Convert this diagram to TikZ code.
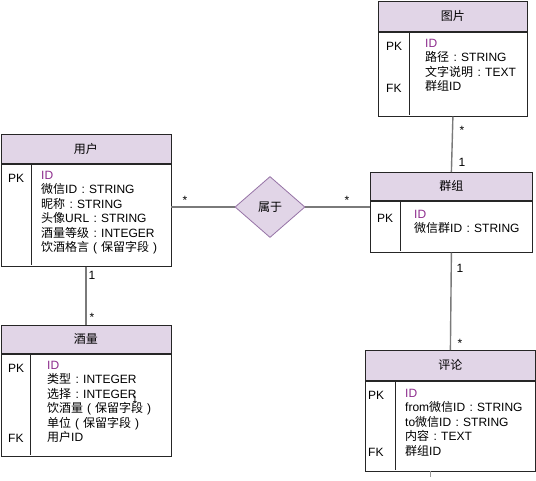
\documentclass[tikz,border=0pt]{standalone}
\usepackage{fontspec}
\setmainfont{Liberation Sans}
\newfontfamily\cjk{Noto Sans CJK SC}
\usetikzlibrary{shapes.geometric}
\definecolor{hdr}{HTML}{E1D5E7}
\definecolor{idc}{HTML}{8E2D8E}
\definecolor{dborder}{HTML}{9673A6}
\definecolor{conncol}{HTML}{7A7A7A}
\newcommand\zh[1]{{\cjk #1}}
\newcommand\cco{\makebox[12pt][c]{:}}
\newcommand\lpa{\makebox[12pt][c]{(}}
\newcommand\rpa{\makebox[12pt][c]{)}}
\begin{document}
\begin{tikzpicture}[x=1pt,y=-1pt,
  hdrbox/.style={draw=black!85, line width=0.8pt, fill=hdr, rectangle, anchor=north west, inner sep=0, font=\fontsize{12}{14.4}\selectfont},
  bodybox/.style={draw=black!85, line width=0.8pt, rectangle, anchor=north west, inner sep=0},
  fld/.style={anchor=base west, inner sep=0, font=\fontsize{12}{14.4}\selectfont},
  conn/.style={draw=conncol, line width=1.4pt},
  mult/.style={anchor=base, inner sep=0, font=\fontsize{12}{14}\selectfont},
  divline/.style={draw=black!85, line width=0.8pt}]
\useasboundingbox[fill=white] (0,0) rectangle (536,480);

% 用户
\node[hdrbox, minimum width=170pt, minimum height=29pt] (userh) at (0.5,134) {\zh{用户}};
\node[bodybox, minimum width=170pt, minimum height=102pt] (user) at (userh.south west) {};
\draw[divline] (31,163) -- (31,265);
\node[fld] (upk) at (8,182.4) {PK};
\foreach \t [count=\i] in {\textcolor{idc}{ID}, \zh{微信}ID\cco STRING, \zh{昵称}\cco STRING, \zh{头像}URL\cco STRING, \zh{酒量等级}\cco INTEGER, \zh{饮酒格言}\lpa\zh{保留字段}\rpa}
  \node[fld] (u\i) at (41,{179.4+(\i-1)*14.4}) {\t};

% 酒量
\node[hdrbox, minimum width=170pt, minimum height=28pt] (wineh) at (0.5,325) {\zh{酒量}};
\node[bodybox, minimum width=170pt, minimum height=102pt] (wine) at (wineh.south west) {};
\draw[divline] (30,353) -- (30,455);
\node[fld] (wpk) at (8,372.4) {PK};
\node[fld] (wfk) at (8,442) {FK};
\foreach \t [count=\i] in {\textcolor{idc}{ID}, \zh{类型}\cco INTEGER, \zh{选择}\cco INTEGER, \zh{饮酒量}\lpa\zh{保留字段}\rpa, \zh{单位}\lpa\zh{保留字段}\rpa, \zh{用户}ID}
  \node[fld] (w\i) at (47,{369.4+(\i-1)*14.4}) {\t};

% 图片
\node[hdrbox, minimum width=149pt, minimum height=30pt] (pich) at (378,1) {\zh{图片}};
\node[bodybox, minimum width=149pt, minimum height=84pt] (pic) at (pich.south west) {};
\draw[divline] (409,31) -- (409,115);
\node[fld] (ppk) at (386,50.4) {PK};
\node[fld] (pfk) at (386,92.4) {FK};
\foreach \t [count=\i] in {\textcolor{idc}{ID}, \zh{路径}\cco STRING, \zh{文字说明}\cco TEXT, \zh{群组}ID}
  \node[fld] (p\i) at (425,{47.4+(\i-1)*14.4}) {\t};

% 群组
\node[hdrbox, minimum width=162pt, minimum height=28pt] (grph) at (370,172) {\zh{群组}};
\node[bodybox, minimum width=162pt, minimum height=51pt] (grp) at (grph.south west) {};
\draw[divline] (400,200) -- (400,251);
\node[fld] (gpk) at (377,222.4) {PK};
\foreach \t [count=\i] in {\textcolor{idc}{ID}, \zh{微信群}ID\cco STRING}
  \node[fld] (g\i) at (414,{218.4+(\i-1)*14.4}) {\t};

% 评论
\node[hdrbox, minimum width=170pt, minimum height=30pt] (comh) at (365,350) {\zh{评论}};
\node[bodybox, minimum width=170pt, minimum height=90pt] (com) at (comh.south west) {};
\draw[divline] (395,380) -- (395,470);
\node[fld] (cpk) at (368,399.4) {PK};
\node[fld] (cfk) at (368,456.4) {FK};
\foreach \t [count=\i] in {\textcolor{idc}{ID}, from\zh{微信}ID\cco STRING, to\zh{微信}ID\cco STRING, \zh{内容}\cco TEXT, \zh{群组}ID}
  \node[fld] (c\i) at (405,{397.4+(\i-1)*14.4}) {\t};

% 属于
\node[diamond, draw=dborder, fill=hdr, line width=0.8pt, minimum width=70pt, minimum height=61pt, inner sep=0, font=\fontsize{12}{14.4}\selectfont] (dia) at (270,207) {\zh{属于}};

% connectors
\draw[conn] (dia.west) -- (dia.west -| user.east);
\draw[conn] (dia.east) -- (dia.east -| grp.west);
\draw[conn] (pic.south) -- (grph.north);
\draw[conn] (grp.south) -- (comh.north);
\draw[conn] (user.south) -- (wineh.north);

% multiplicities
\node[mult] (m1) at (185,204) {*};
\node[mult] (m2) at (347,204) {*};
\node[mult] (m3) at (462,134) {*};
\node[mult] (m4) at (462,166) {1};
\node[mult] (m5) at (460,272) {1};
\node[mult] (m6) at (460,347) {*};
\node[mult] (m7) at (92,279) {1};
\node[mult] (m8) at (92,321) {*};
\node[mult, font=\fontsize{9}{10}\selectfont] (m9) at (135,402) {1};

% stray tick
\coordinate (tk1) at (430,471);
\coordinate (tk2) at (430,477);
\draw[draw=black!40, line width=0.5pt] (tk1) -- (tk2);
\end{tikzpicture}
\end{document}
